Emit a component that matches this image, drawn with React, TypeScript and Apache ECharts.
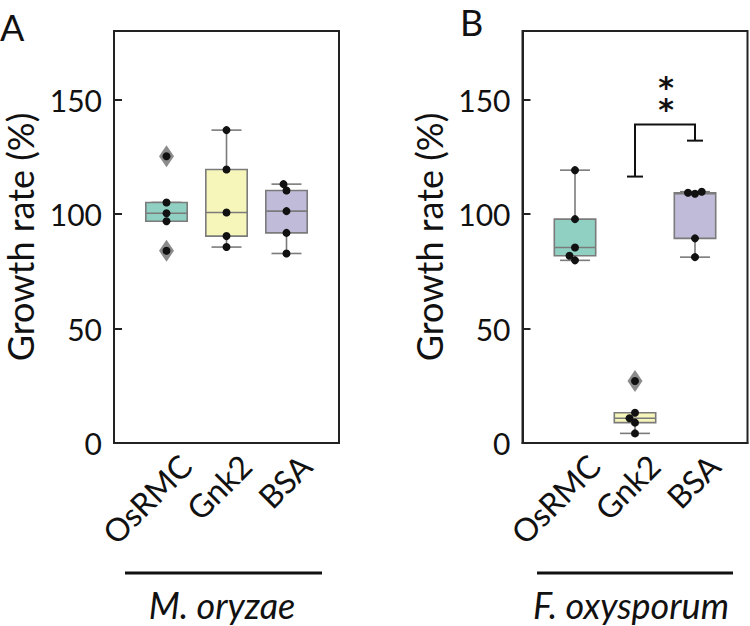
import React, { useEffect, useRef } from "react";
import * as echarts from "echarts";

// ---------- data ----------
const categories = ["OsRMC", "Gnk2", "BSA"];
const panelTitles = ["A", "B"];
const speciesNames = ["M. oryzae", "F. oxysporum"];
// M. oryzae growth rate (%)
const moOsRMC = [84.0, 96.9, 100.4, 105.1, 125.3];
const moGnk2 = [85.6, 90.4, 100.7, 119.5, 136.7];
const moBSA = [82.8, 91.8, 101.3, 110.3, 113.1];
// F. oxysporum growth rate (%)
const foOsRMC = [79.8, 81.8, 85.4, 97.8, 119.2];
const foGnk2 = [4.2, 8.9, 10.8, 13.2, 27.1];
const foBSA = [81.2, 89.4, 108.9, 109.3, 109.8];
const yTickValues = [0, 50, 100, 150];
const yMax = 180;
// significance bracket (panel B): categories compared, [left end, top, right end] levels, label
const bracketCats = [1, 2];
const bracketLevels = [116.4, 139.1, 132.1];
const bracketLabel = "*\n*";

const boxColors = ["#8fd0c3", "#f6f5ba", "#bfbbd9"];

// ---------- layout ----------
const W = 750;
const H = 626;
const gridTop = 31;
const gridBottomY = 443;
const gridLefts = [114, 522.5];
const gridWidth = 225;
const catSpacing = 60;
const xMin = -0.875;
const xMax = 2.875;
const labelShiftPx = 19;
const font = "Lato";

function quantile(sorted: number[], q: number) {
  const pos = (sorted.length - 1) * q;
  const lo = Math.floor(pos);
  const hi = Math.ceil(pos);
  return sorted[lo] + (sorted[hi] - sorted[lo]) * (pos - lo);
}

function boxStats(values: number[]) {
  const s = [...values].sort((a, b) => a - b);
  const q1 = quantile(s, 0.25);
  const med = quantile(s, 0.5);
  const q3 = quantile(s, 0.75);
  const iqr = q3 - q1;
  const lf = q1 - 1.5 * iqr;
  const uf = q3 + 1.5 * iqr;
  const inside = s.filter((v) => v >= lf && v <= uf);
  const outliers = s.filter((v) => v < lf || v > uf);
  return {
    lo: Math.min(...inside),
    q1,
    med,
    q3,
    hi: Math.max(...inside),
    outliers,
  };
}

// simple beeswarm: returns x offsets (in category units) for each value
function swarm(values: number[], diameter = 7) {
  const pxPerVal = (gridBottomY - gridTop) / yMax;
  const idx = values.map((_, i) => i).sort((a, b) => values[a] - values[b]);
  const placed: { x: number; y: number }[] = [];
  const out = new Array(values.length).fill(0);
  for (const i of idx) {
    const y = values[i] * pxPerVal;
    let chosen = 0;
    for (let k = 0; k < 200; k++) {
      const step = Math.ceil(k / 2) * 0.25;
      const cand = k === 0 ? 0 : k % 2 === 1 ? -step : step;
      const ok = placed.every(
        (p) => (p.x - cand) ** 2 + (p.y - y) ** 2 >= diameter * diameter - 1e-6
      );
      if (ok) {
        chosen = cand;
        break;
      }
    }
    placed.push({ x: chosen, y });
    out[i] = chosen / catSpacing;
  }
  return out;
}

const panels = [
  [moOsRMC, moGnk2, moBSA],
  [foOsRMC, foGnk2, foBSA],
];

export default function App() {
  const ref = useRef<HTMLDivElement>(null);
  useEffect(() => {
    if (!ref.current) return;
    const chart = echarts.init(ref.current, null, { renderer: "svg" });

    const grids: any[] = [];
    const xAxes: any[] = [];
    const yAxes: any[] = [];
    const series: any[] = [];

    panels.forEach((groups, p) => {
      grids.push({
        left: gridLefts[p],
        top: gridTop,
        width: gridWidth,
        height: gridBottomY - gridTop,
        show: true,
        borderColor: "#222",
        borderWidth: 2,
        backgroundColor: "transparent",
      });
      // main value x axis
      xAxes.push({
        type: "value",
        gridIndex: p,
        min: xMin,
        max: xMax,
        axisLine: { show: true, onZero: false, lineStyle: { color: "#222", width: 2 } },
        axisTick: { show: false },
        axisLabel: { show: false },
        splitLine: { show: false },
      });
      // label axis (shifted)
      const sh = labelShiftPx / catSpacing;
      xAxes.push({
        type: "value",
        gridIndex: p,
        min: xMin - sh,
        max: xMax - sh,
        position: "bottom",
        axisLine: { show: false, onZero: false },
        axisTick: { show: false },
        splitLine: { show: false },
        axisLabel: {
          show: true,
          customValues: [0, 1, 2],
          formatter: (v: number) => categories[Math.round(v)] ?? "",
          rotate: 45,
          margin: 17,
          fontSize: 32,
          fontFamily: font,
          color: "#111",
          hideOverlap: false,
        },
      });
      yAxes.push({
        type: "value",
        gridIndex: p,
        min: 0,
        max: yMax,
        interval: 50,
        name: "Growth rate (%)",
        nameLocation: "middle",
        nameGap: 77,
        nameTextStyle: { fontSize: 36, fontFamily: font, color: "#111", lineHeight: 34 },
        axisLine: { show: true, onZero: false, lineStyle: { color: "#222", width: 2 } },
        axisTick: {
          show: true,
          inside: true,
          length: 8,
          customValues: yTickValues,
          lineStyle: { color: "#222", width: 2 },
        },
        axisLabel: {
          show: true,
          customValues: yTickValues,
          margin: 12,
          fontSize: 30,
          fontFamily: font,
          color: "#111",
        },
        splitLine: { show: false },
      });

      const xIdx = p * 2;
      const boxData = groups.map((vals, c) => {
        const s = boxStats(vals);
        return [c, s.lo, s.q1, s.med, s.q3, s.hi];
      });
      series.push({
        type: "custom",
        xAxisIndex: xIdx,
        yAxisIndex: p,
        z: 2,
        data: boxData,
        renderItem: (params: any, api: any) => {
          const c = api.value(0);
          const lo = api.value(1);
          const q1 = api.value(2);
          const med = api.value(3);
          const q3 = api.value(4);
          const hi = api.value(5);
          const hb = 0.345;
          const hc = 0.25;
          const stroke = "#7b7b7b";
          const lw = 1.6;
          const a = api.coord([c - hb, q3]);
          const b = api.coord([c + hb, q1]);
          const line = (x1: number, y1: number, x2: number, y2: number) => {
            const p1 = api.coord([x1, y1]);
            const p2 = api.coord([x2, y2]);
            return {
              type: "line",
              shape: { x1: p1[0], y1: p1[1], x2: p2[0], y2: p2[1] },
              style: { stroke, lineWidth: lw },
            };
          };
          return {
            type: "group",
            children: [
              line(c, q3, c, hi),
              line(c, q1, c, lo),
              line(c - hc, hi, c + hc, hi),
              line(c - hc, lo, c + hc, lo),
              {
                type: "rect",
                shape: { x: a[0], y: a[1], width: b[0] - a[0], height: b[1] - a[1] },
                style: { fill: boxColors[c], stroke, lineWidth: lw },
              },
              line(c - hb, med, c + hb, med),
            ],
          };
        },
      });
      // outliers (diamonds)
      const outData: number[][] = [];
      groups.forEach((vals, c) => {
        boxStats(vals).outliers.forEach((v) => outData.push([c, v]));
      });
      series.push({
        type: "scatter",
        xAxisIndex: xIdx,
        yAxisIndex: p,
        z: 3,
        symbol: "diamond",
        symbolSize: [15, 22],
        itemStyle: { color: "#6e6e6e" },
        data: outData,
      });
      // points
      const ptData: number[][] = [];
      groups.forEach((vals, c) => {
        const off = swarm(vals);
        vals.forEach((v, i) => ptData.push([c + off[i], v]));
      });
      series.push({
        type: "scatter",
        xAxisIndex: xIdx,
        yAxisIndex: p,
        z: 4,
        symbol: "circle",
        symbolSize: 8,
        itemStyle: { color: "#111", opacity: 1 },
        data: ptData,
      });
    });

    // significance bracket on panel B
    series.push({
      type: "custom",
      xAxisIndex: 2,
      yAxisIndex: 1,
      z: 5,
      data: [[bracketCats[0], bracketCats[1], bracketLevels[0], bracketLevels[1], bracketLevels[2]]],
      renderItem: (params: any, api: any) => {
        const c1 = api.value(0);
        const c2 = api.value(1);
        const yl = api.value(2);
        const yt = api.value(3);
        const yr = api.value(4);
        const pL = api.coord([c1, yl]);
        const pTL = api.coord([c1, yt]);
        const pTR = api.coord([c2, yt]);
        const pR = api.coord([c2, yr]);
        const cap = 8;
        const st = { stroke: "#111", lineWidth: 2, fill: null };
        const midX = (pTL[0] + pTR[0]) / 2;
        return {
          type: "group",
          children: [
            { type: "polyline", shape: { points: [pL, pTL, pTR, pR] }, style: st },
            { type: "line", shape: { x1: pL[0] - cap, y1: pL[1], x2: pL[0] + cap, y2: pL[1] }, style: st },
            { type: "line", shape: { x1: pR[0] - cap, y1: pR[1], x2: pR[0] + cap, y2: pR[1] }, style: st },
            {
              type: "text",
              style: {
                text: bracketLabel,
                x: midX + 1,
                y: pTL[1] - 4,
                font: `bold 30px 'DejaVu Sans'`,
                fill: "#111",
                align: "center",
                verticalAlign: "bottom",
                lineHeight: 22,
              },
            },
          ],
        };
      },
    });

    const graphics: any[] = [];
    panelTitles.forEach((t, p) => {
      graphics.push({
        type: "text",
        x: p === 0 ? 0 : 460,
        y: p === 0 ? 27 : 22,
        style: {
          text: t,
          font: `36px ${font}`,
          fill: "#111",
          verticalAlign: "middle",
          textVerticalAlign: "middle",
          lineHeight: 36,
        },
      });
      const x1 = p === 0 ? 125 : 537;
      const x2 = p === 0 ? 322 : 733;
      graphics.push({
        type: "line",
        shape: { x1, y1: 573, x2, y2: 573 },
        style: { stroke: "#111", lineWidth: 3 },
      });
      graphics.push({
        type: "text",
        x: p === 0 ? 222 : 631,
        y: 605,
        style: {
          text: speciesNames[p],
          font: `italic 36px ${font}`,
          fill: "#111",
          align: "center",
          verticalAlign: "middle",
          textAlign: "center",
          textVerticalAlign: "middle",
          lineHeight: 36,
        },
      });
    });

    chart.setOption({
      animation: false,
      backgroundColor: "#fff",
      grid: grids,
      xAxis: xAxes,
      yAxis: yAxes,
      series,
      graphic: graphics,
    });
    return () => chart.dispose();
  }, []);
  return (
    <div
      ref={ref}
      style={{ position: "absolute", left: 0, top: 0, width: W, height: H }}
    />
  );
}
